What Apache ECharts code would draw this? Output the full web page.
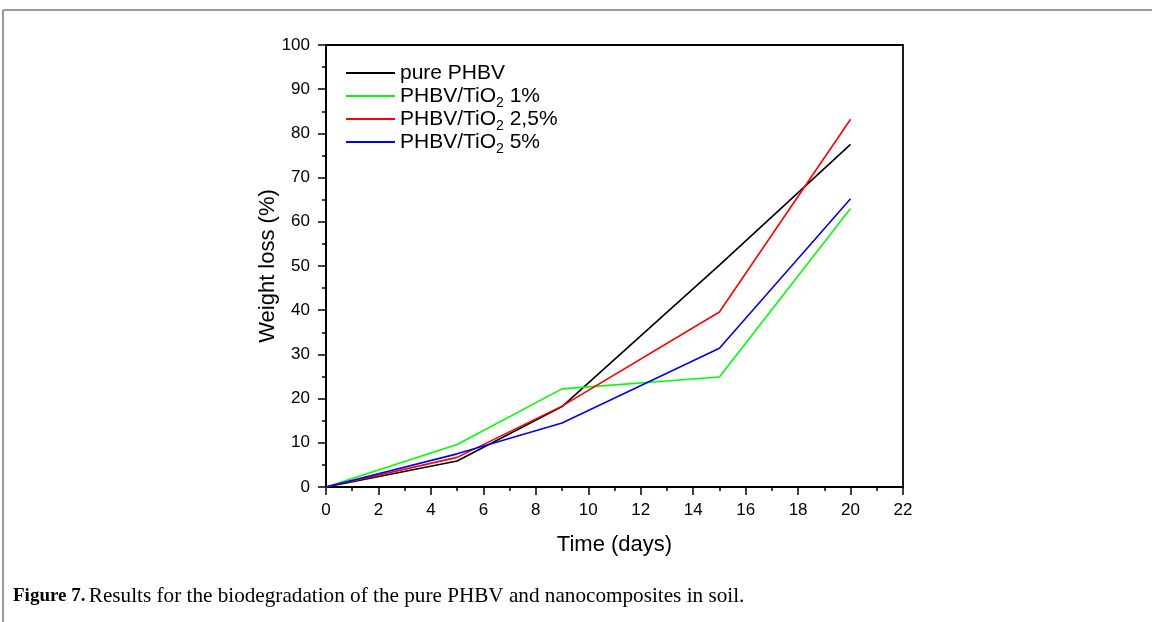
<!DOCTYPE html>
<html>
<head>
<meta charset="utf-8">
<script src="https://cdn.jsdelivr.net/npm/echarts@6/dist/echarts.min.js"></script>
<style>
html,body{margin:0;padding:0;background:#fff;}
#chart{width:1152px;height:622px;}
</style>
</head>
<body>
<div id="chart"></div>
<script>
const days = [0, 5, 9, 15, 20];
const seriesNames = ['pure PHBV', 'PHBV/TiO2 1%', 'PHBV/TiO2 2,5%', 'PHBV/TiO2 5%'];
const purePHBV = [0, 5.9, 18.2, 50.2, 77.5];
const tio2_1 = [0, 9.6, 22.2, 24.9, 63.0];
const tio2_25 = [0, 6.7, 18.3, 39.6, 83.2];
const tio2_5 = [0, 7.5, 14.5, 31.4, 65.2];
const colors = ['#000000', '#00ff00', '#ff0000', '#0000ff'];
const xTitle = 'Time (days)';
const yTitle = 'Weight loss (%)';
const caption = 'Results for the biodegradation of the pure PHBV and nanocomposites in soil.';

const allValues = [purePHBV, tio2_1, tio2_25, tio2_5];
const chart = echarts.init(document.getElementById('chart'));
const font = 'Liberation Sans, Arial, sans-serif';

function legendFmt(name) {
  const m = name.match(/^(.*TiO)2(.*)$/);
  if (m) return '{a|' + m[1] + '}{s|2}{a|' + m[2] + '}';
  return '{a|' + name + '}{s| }';
}

chart.setOption({
  animation: false,
  backgroundColor: '#fff',
  grid: { left: 326, top: 45, width: 577, height: 442, show: true, borderColor: '#000', borderWidth: 1.8, backgroundColor: 'transparent' },
  legend: {
    orient: 'vertical', left: 341, top: 54, itemWidth: 49, itemHeight: 2, itemGap: -5,
    icon: 'rect', data: seriesNames,
    formatter: legendFmt,
    textStyle: {
      rich: {
        a: { fontFamily: font, fontSize: 21, color: '#000', lineHeight: 22 },
        s: { fontFamily: font, fontSize: 14, color: '#000', lineHeight: 8, padding: [14, 0, 0, 0] }
      }
    }
  },
  xAxis: {
    type: 'value', min: 0, max: 22, interval: 2,
    name: xTitle, nameLocation: 'middle', nameGap: 47, nameMoveOverlap: false,
    nameTextStyle: { fontFamily: font, fontSize: 22, color: '#000' },
    axisLine: { lineStyle: { color: '#000', width: 1.8 } },
    axisTick: { inside: false, length: 8, lineStyle: { color: '#000', width: 1.5 } },
    minorTick: { show: true, splitNumber: 2, length: 4, lineStyle: { color: '#000', width: 1.5 } },
    axisLabel: { fontFamily: font, fontSize: 17, color: '#000', margin: 15 },
    splitLine: { show: false }
  },
  yAxis: {
    type: 'value', min: 0, max: 100, interval: 10,
    name: yTitle, nameLocation: 'middle', nameGap: 47, nameMoveOverlap: false,
    nameTextStyle: { fontFamily: font, fontSize: 22, color: '#000' },
    axisLine: { show: true, lineStyle: { color: '#000', width: 1.8 } },
    axisTick: { show: true, inside: false, length: 8, lineStyle: { color: '#000', width: 1.5 } },
    minorTick: { show: true, splitNumber: 2, length: 4, lineStyle: { color: '#000', width: 1.5 } },
    axisLabel: { fontFamily: font, fontSize: 17, color: '#000', margin: 16 },
    splitLine: { show: false }
  },
  series: seriesNames.map((n, i) => ({
    name: n, type: 'line', showSymbol: false, symbol: 'none',
    color: colors[i],
    lineStyle: { color: colors[i], width: 1.6 },
    data: days.map((d, j) => [d, allValues[i][j]])
  })),
  graphic: [
    { type: 'line', shape: { x1: 3, y1: 10, x2: 1152, y2: 10 }, style: { stroke: '#999', lineWidth: 2 } },
    { type: 'line', shape: { x1: 3, y1: 10, x2: 3, y2: 622 }, style: { stroke: '#999', lineWidth: 2 } },
    { type: 'text', left: 13, top: 586, style: {
        text: '{b|Figure 7.} {r|' + caption + '}',
        rich: {
          b: { fontFamily: 'Liberation Serif, serif', fontWeight: 'bold', fontSize: 19, fill: '#000' },
          r: { fontFamily: 'Liberation Serif, serif', fontSize: 21.2, fill: '#000' }
        }
    } }
  ]
});
</script>
</body>
</html>
